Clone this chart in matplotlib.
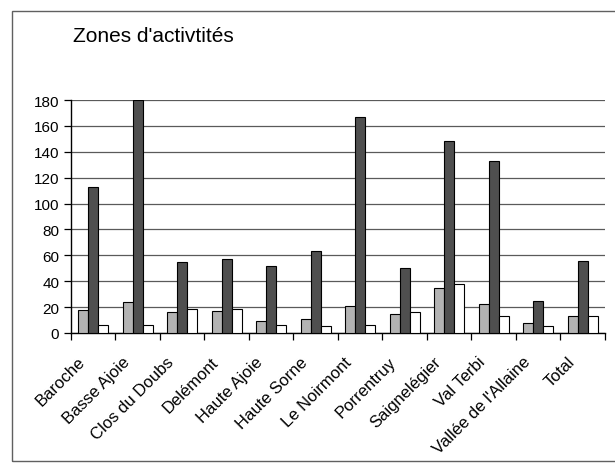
import matplotlib
matplotlib.use("Agg")
import matplotlib.pyplot as plt
from matplotlib.patches import Rectangle
from matplotlib.transforms import ScaledTranslation
import numpy as np

plt.rcParams['font.family'] = ['Liberation Sans', 'DejaVu Sans']

categories = ["Baroche", "Basse Ajoie", "Clos du Doubs", "Delémont", "Haute Ajoie",
              "Haute Sorne", "Le Noirmont", "Porrentruy", "Saignelégier", "Val Terbi",
              "Vallée de l'Allaine", "Total"]
series_light = [18, 24, 16, 17, 9.5, 11, 21, 15, 34.5, 22.5, 7.5, 13.5]
series_dark = [113, 180, 55, 57, 52, 63, 167, 50, 148, 133, 24.5, 56]
series_white = [6.5, 6.5, 18.5, 18.5, 6, 5.5, 6, 16.5, 37.5, 13, 5.5, 13.5]
yticks = list(range(0, 181, 20))

fig = plt.figure(figsize=(6.15, 4.64), dpi=100)
ax = fig.add_axes([0.1154, 0.2802, 0.8683, 0.5021])

x = np.arange(len(categories))
w = 1 / 4.5
ax.bar(x - w, series_light, w, color='#b3b3b3', edgecolor='black', linewidth=0.8, zorder=3)
ax.bar(x, series_dark, w, color='#4f4f4f', edgecolor='black', linewidth=0.8, zorder=3)
ax.bar(x + w, series_white, w, color='white', edgecolor='black', linewidth=0.8, zorder=3)

ax.set_xlim(-0.5, len(categories) - 0.5)
ax.set_ylim(0, 180)
ax.set_yticks(yticks)
ax.set_yticklabels([str(v) for v in yticks], fontsize=11)
ax.yaxis.grid(True, color='#5a5a5a', linewidth=0.9, zorder=0)
ax.set_axisbelow(True)

ax.set_xticks(np.arange(len(categories) + 1) - 0.5, minor=False)
ax.set_xticklabels([])
ax.set_xticks(x, minor=True)
ax.set_xticklabels(categories, minor=True, rotation=45, ha='right', va='top',
                   rotation_mode='anchor', fontsize=12)
ax.tick_params(axis='x', which='minor', length=0, pad=15)
ax.tick_params(axis='x', which='major', length=5, width=0.9, direction='out')
ax.tick_params(axis='y', length=5, width=0.9, direction='out', pad=3.5)

shift = ScaledTranslation(-16 / 100, 0, fig.dpi_scale_trans)
for lbl in ax.get_xticklabels(minor=True):
    lbl.set_transform(lbl.get_transform() + shift)

for side in ['top', 'right']:
    ax.spines[side].set_visible(False)
for side in ['left', 'bottom']:
    ax.spines[side].set_linewidth(1.0)
    ax.spines[side].set_color('black')

fig.text(73 / 615, 1 - 37 / 464, "Zones d'activtités", fontsize=15,
         ha='left', va='center')

fig.patches.append(Rectangle((12 / 615, 1 - 462 / 464), 1.0, (462 - 12) / 464,
                             transform=fig.transFigure, fill=False,
                             edgecolor='#606060', linewidth=1.0))

fig.savefig("out.png", dpi=100)
